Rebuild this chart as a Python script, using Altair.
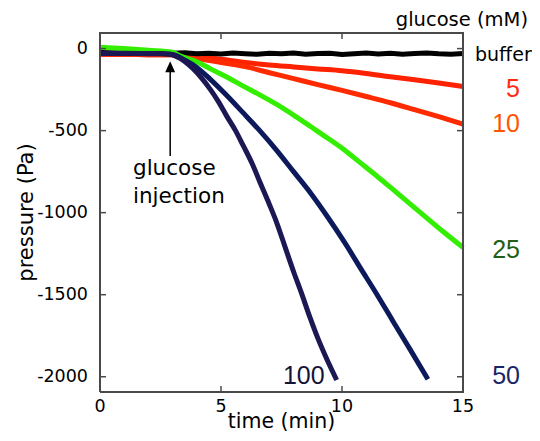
import altair as alt
import pandas as pd

# ---------------- data ----------------
buffer_t = [0, 0.5, 1, 1.5, 2, 2.5, 3, 3.5, 4, 4.5, 5, 5.5, 6, 6.5, 7, 7.5, 8, 8.5,
            9, 9.5, 10, 10.5, 11, 11.5, 12, 12.5, 13, 13.5, 14, 14.5, 15]
buffer_p = [-24, -26, -28, -27, -30, -28, -29, -26, -32, -28, -33, -27, -31, -35, -29, -32,
            -27, -34, -30, -28, -36, -31, -27, -33, -29, -35, -30, -27, -32, -34, -30]

mM5_t = [0, 1, 2, 3, 4, 5, 6, 7, 8, 9, 10, 11, 12, 13, 14, 15]
mM5_p = [-35, -36, -37, -38, -48, -65, -85, -100, -112, -124, -135, -152, -172, -190, -210, -231]

mM10_t = [0, 1, 2, 3, 4, 5, 6, 7, 8, 9, 10, 11, 12, 13, 14, 15]
mM10_p = [-35, -36, -37, -38, -60, -85, -110, -147, -183, -220, -255, -292, -330, -372, -415, -460]

mM25_t = [0, 1, 2, 3, 3.3, 4, 4.55, 5.2, 5.9, 6.6, 7.3, 8, 8.7, 9.4, 10.1, 10.75,
          11.45, 12.1, 12.8, 13.5, 14.2, 15]
mM25_p = [8, 0, -10, -22, -44, -80, -122, -170, -227, -282, -340, -405, -475, -545, -618,
          -695, -778, -858, -945, -1032, -1118, -1212]

mM50_t = [0, 1, 2, 2.5, 3, 3.5, 4, 4.55, 5.2, 5.9, 6.6, 7.3, 8, 8.7, 9.4, 10.1, 10.75,
          11.45, 12.1, 12.8, 13.55]
mM50_p = [-30, -30, -31, -32, -36, -70, -115, -186, -280, -389, -500, -620, -750, -880,
          -1025, -1180, -1335, -1500, -1660, -1830, -2015]

mM100_t = [0, 1, 2, 2.5, 2.9, 3.25, 3.5, 3.86, 4.2, 4.55, 4.9, 5.23, 5.6, 5.92, 6.3,
           6.61, 7.0, 7.3, 7.65, 8.0, 8.3, 8.68, 9.0, 9.37, 9.78]
mM100_p = [-28, -29, -30, -30, -34, -55, -78, -125, -180, -247, -325, -410, -500, -592,
           -705, -815, -950, -1060, -1210, -1360, -1480, -1640, -1765, -1892, -2020]

series_names = ["buffer", "5", "10", "25", "50", "100"]
x_ticks = [0, 5, 10, 15]
y_ticks = [0, -500, -1000, -1500, -2000]
x_title = "time (min)"
y_title = "pressure (Pa)"

# annotation: glucose injection arrow (data coords)
arrow_t = 2.9
arrow_tip_p = -110
arrow_base_p = -655

# ---------------- styling ----------------
FONT = "DejaVu Sans"
NUM_FONT = "Liberation Sans"
W, H = 363, 359
X_DOMAIN = [0, 15]
Y_DOMAIN = [-2093, 95]
xs = alt.Scale(domain=X_DOMAIN, nice=False, zero=False)
ys = alt.Scale(domain=Y_DOMAIN, nice=False, zero=False)
FRAME = "#4a4a4a"
TICK_LEN = 6

line_colors = {"buffer": "#000000", "5": "#ff2200", "10": "#ff2a00",
               "25": "#33ee00", "50": "#0c1a5c", "100": "#1c1854"}
label_colors = {"buffer": "#000000", "5": "#ff2a10", "10": "#ff5500",
                "25": "#1f6014", "50": "#1a2466", "100": "#141438"}

series = {
    "buffer": (buffer_t, buffer_p),
    "5": (mM5_t, mM5_p),
    "10": (mM10_t, mM10_p),
    "25": (mM25_t, mM25_p),
    "50": (mM50_t, mM50_p),
    "100": (mM100_t, mM100_p),
}


def X(field):
    return alt.X(field, type="quantitative", scale=xs, axis=None)


def Y(field):
    return alt.Y(field, type="quantitative", scale=ys, axis=None)


layers = []

# curves
draw_order = ["5", "10", "buffer", "25", "50", "100"]
for name in draw_order:
    t, p = series[name]
    interp = "linear" if name == "buffer" else "monotone"
    layers.append(
        alt.Chart(pd.DataFrame({"t": t, "p": p}))
        .mark_line(color=line_colors[name], strokeWidth=5, interpolate=interp)
        .encode(x=X("t"), y=Y("p"))
    )

# plot frame: closed path through the corners of the scale domains
X0, X1 = X_DOMAIN
Y0, Y1 = Y_DOMAIN
frame_df = pd.DataFrame({"t": [X0, X1, X1, X0, X0], "p": [Y0, Y0, Y1, Y1, Y0],
                         "o": [0, 1, 2, 3, 4]})
layers.append(
    alt.Chart(frame_df).mark_line(color=FRAME, strokeWidth=2)
    .encode(x=X("t"), y=Y("p"), order="o:Q")
)

# inward tick marks on all four sides, built from the tick lists
dx = TICK_LEN * (X1 - X0) / W
dy = TICK_LEN * (Y1 - Y0) / H
rows = []
for i, v in enumerate(x_ticks):
    rows += [{"g": f"xb{i}", "o": 0, "t": v, "p": Y0}, {"g": f"xb{i}", "o": 1, "t": v, "p": Y0 + dy},
             {"g": f"xt{i}", "o": 0, "t": v, "p": Y1}, {"g": f"xt{i}", "o": 1, "t": v, "p": Y1 - dy}]
for i, v in enumerate(y_ticks):
    rows += [{"g": f"yl{i}", "o": 0, "t": X0, "p": v}, {"g": f"yl{i}", "o": 1, "t": X0 + dx, "p": v},
             {"g": f"yr{i}", "o": 0, "t": X1, "p": v}, {"g": f"yr{i}", "o": 1, "t": X1 - dx, "p": v}]
layers.append(
    alt.Chart(pd.DataFrame(rows)).mark_line(color=FRAME, strokeWidth=1.5)
    .encode(x=X("t"), y=Y("p"), detail="g:N", order="o:Q")
)

# tick labels and axis titles
xt = pd.DataFrame({"t": x_ticks, "label": [str(v) for v in x_ticks]})
yt = pd.DataFrame({"p": y_ticks, "label": [str(v) for v in y_ticks]})
layers.append(alt.Chart(xt).mark_text(align="center", baseline="top", font=FONT,
                                      fontSize=17.5, color="#000").encode(
    x=X("t"), y=alt.value(H + 6), text="label:N"))
layers.append(alt.Chart(yt).mark_text(align="right", baseline="middle", font=FONT,
                                      fontSize=17.5, color="#000").encode(
    y=Y("p"), x=alt.value(-12), text="label:N"))
layers.append(alt.Chart(pd.DataFrame({"label": [x_title]})).mark_text(
    align="center", baseline="alphabetic", font=FONT, fontSize=20.5, color="#000").encode(
    x=alt.value(W / 2), y=alt.value(H + 36), text="label:N"))
layers.append(alt.Chart(pd.DataFrame({"label": [y_title]})).mark_text(
    align="center", baseline="alphabetic", font=FONT, fontSize=21, color="#000",
    angle=270).encode(x=alt.value(-67), y=alt.value(H / 2), text="label:N"))

# right-hand labels, placed at the final value of each series
label_dy = {"buffer": 7, "5": 11, "10": 8, "25": 10.5, "50": 5}
for name in ["buffer", "5", "10", "25", "50"]:
    t, p = series[name]
    d = pd.DataFrame({"p": [p[-1]], "label": [name]})
    if name == "buffer":
        mk = alt.Chart(d).mark_text(align="left", baseline="alphabetic", font=FONT,
                                    fontSize=19, color=label_colors[name], dy=label_dy[name])
        xv = alt.value(W + 12)
    else:
        mk = alt.Chart(d).mark_text(align="right", baseline="alphabetic", font=NUM_FONT,
                                    fontSize=25, color=label_colors[name], dy=label_dy[name])
        xv = alt.value(W + 57)
    layers.append(mk.encode(x=xv, y=Y("p"), text="label:N"))

# "100" label sits to the left of its curve end
t100, p100 = series["100"]
layers.append(
    alt.Chart(pd.DataFrame({"t": [t100[-1]], "p": [p100[-1]], "label": ["100"]}))
    .mark_text(align="right", baseline="alphabetic", font=NUM_FONT, fontSize=25,
               color=label_colors["100"], dx=-12, dy=4)
    .encode(x=X("t"), y=Y("p"), text="label:N")
)

# legend title
layers.append(
    alt.Chart(pd.DataFrame({"label": ["glucose (mM)"]}))
    .mark_text(align="right", baseline="alphabetic", font=FONT, fontSize=19.5, color="#000")
    .encode(x=alt.value(428), y=alt.value(-7), text="label:N")
)

# arrow
layers.append(
    alt.Chart(pd.DataFrame({"t": [arrow_t], "p": [arrow_base_p], "p2": [arrow_tip_p]}))
    .mark_rule(color="#000", strokeWidth=1.5)
    .encode(x=X("t"), y=Y("p"), y2="p2:Q")
)
layers.append(
    alt.Chart(pd.DataFrame({"t": [arrow_t], "p": [arrow_tip_p]}))
    .mark_point(shape="M0,-1L0.9,1L-0.9,1Z", size=121, filled=True, color="#000",
                opacity=1, strokeWidth=0)
    .encode(x=X("t"), y=Y("p"))
)
layers.append(
    alt.Chart(pd.DataFrame({"label": ["glucose\ninjection"]}))
    .mark_text(align="left", baseline="alphabetic", font=FONT, fontSize=21.5, color="#000",
               lineBreak="\n", lineHeight=28)
    .encode(x=alt.value(33), y=alt.value(142), text="label:N")
)

chart = (
    alt.layer(*layers)
    .properties(width=W, height=H, padding={"left": 92, "top": 25, "right": 69, "bottom": 41},
                autosize=alt.AutoSizeParams(type="none"))
    .configure_view(strokeWidth=0)
)

chart.save("out.html", embed_options={"renderer": "svg", "actions": False})
